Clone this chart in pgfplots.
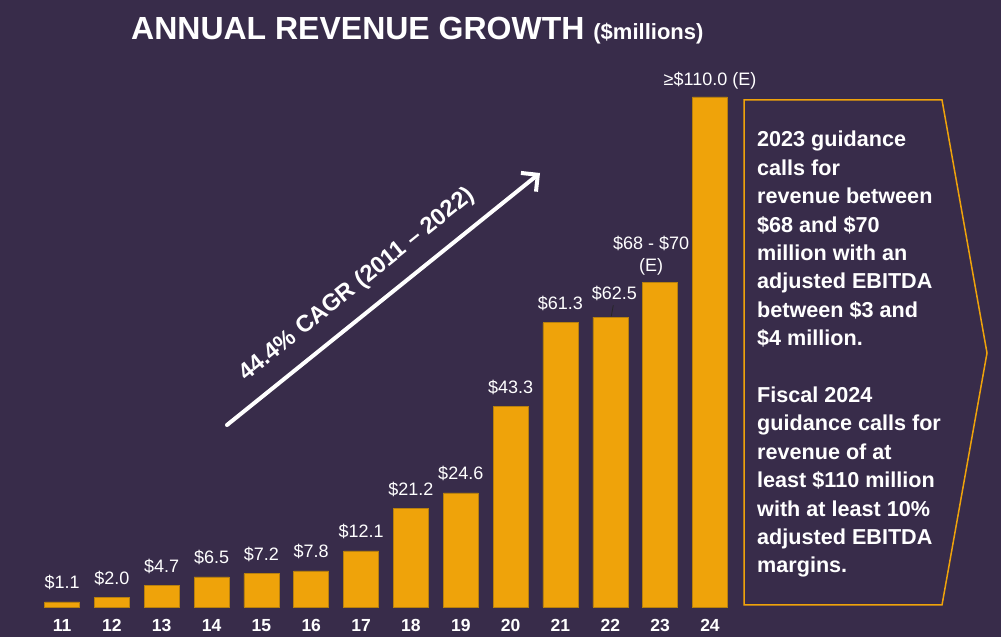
\documentclass[border=0pt]{standalone}
\usepackage{fontspec}
\setmainfont{Liberation Sans}
\usepackage{pgfplots}
\pgfplotsset{compat=1.18}
\usetikzlibrary{arrows.meta}
\definecolor{bg}{HTML}{382C4A}
\definecolor{barc}{HTML}{EFA30A}
\definecolor{bardark}{HTML}{B7800E}
\begin{document}
\begin{tikzpicture}[x=1pt,y=1pt]
\path[use as bounding box] (0,0) rectangle (1001,637);
\fill[bg] (0,0) rectangle (1001,637);
% title
\node[anchor=base west, inner sep=0, text=white] at (131,597)
  {\fontsize{32}{38}\selectfont\bfseries ANNUAL REVENUE GROWTH \fontsize{22}{26}\selectfont(\$millions)};
\begin{axis}[
  at={(37.1pt,30pt)}, anchor=south west, scale only axis,
  width=697.8pt, height=510pt,
  xmin=10.5, xmax=24.5, ymin=0, ymax=110,
  axis line style={draw=none},
  ybar, bar width=35pt,
  xtick={11,12,13,14,15,16,17,18,19,20,21,22,23,24},
  xticklabels={11,12,13,14,15,16,17,18,19,20,21,22,23,24},
  ytick=\empty, major tick length=0pt,
  xticklabel style={font=\fontsize{17.5}{19}\selectfont\bfseries, text=white, anchor=base, yshift=-24pt},
  clip=false,
  nodes near coords, point meta=explicit symbolic,
  nodes near coords style={font=\fontsize{18}{21}\selectfont, text=white, anchor=base, yshift=13pt},
]
\addplot[fill=barc, draw=bardark, line width=0.6pt] coordinates {
 (11,1.1) [\$1.1]
 (12,2.0) [\$2.0]
 (13,4.7) [\$4.7]
 (14,6.5) [\$6.5]
 (15,7.2) [\$7.2]
 (16,7.8) [\$7.8]
 (17,12.1) [\$12.1]
 (18,21.2) [\$21.2]
 (19,24.6) [\$24.6]
 (20,43.3) [\$43.3]
 (21,61.3) [\$61.3]
 (22,62.5) [{}]
 (23,70) [{}]
 (24,110) [{}]
};
\node[font=\fontsize{18}{21}\selectfont, text=white, anchor=base, xshift=4pt, yshift=18pt] at (axis cs:22,62.5) {\$62.5};
\draw[black!85, line width=0.8pt] ([xshift=1pt,yshift=1pt]axis cs:22,62.5) -- ([xshift=3pt,yshift=12pt]axis cs:22,62.5);
\node[font=\fontsize{18}{21}\selectfont, text=white, anchor=base, xshift=-9pt, yshift=33pt] at (axis cs:23,70) {\$68 - \$70};
\node[font=\fontsize{18}{21}\selectfont, text=white, anchor=base, xshift=-9pt, yshift=11pt] at (axis cs:23,70) {(E)};
\node[font=\fontsize{18}{21}\selectfont, text=white, anchor=base, yshift=11pt] at (axis cs:24,110) {≥\$110.0 (E)};
\end{axis}
% CAGR arrow
\draw[white, line width=4pt, line cap=round, -{Straight Barb[length=12pt,width=24pt]}] (227,212) -- (540,464);
\node[text=white, rotate=38.8, inner sep=0] at (357,352) {\fontsize{23.5}{27}\selectfont\bfseries 44.4\% CAGR (2011 – 2022)};
% guidance box
\draw[barc, line width=1.5pt, line join=miter] (744,537) -- (942,537) -- (987,284) -- (942,32) -- (744,32) -- cycle;
\node[anchor=north west, inner sep=0, text=white, align=left, font=\fontsize{21.6}{28.4}\selectfont\bfseries] at (757,506) {2023 guidance\\calls for\\revenue between\\\$68 and \$70\\million with an\\adjusted EBITDA\\between \$3 and\\\$4 million.\\[28.4pt]Fiscal 2024\\guidance calls for\\revenue of at\\least \$110 million\\with at least 10\%\\adjusted EBITDA\\margins.};
\end{tikzpicture}
\end{document}
